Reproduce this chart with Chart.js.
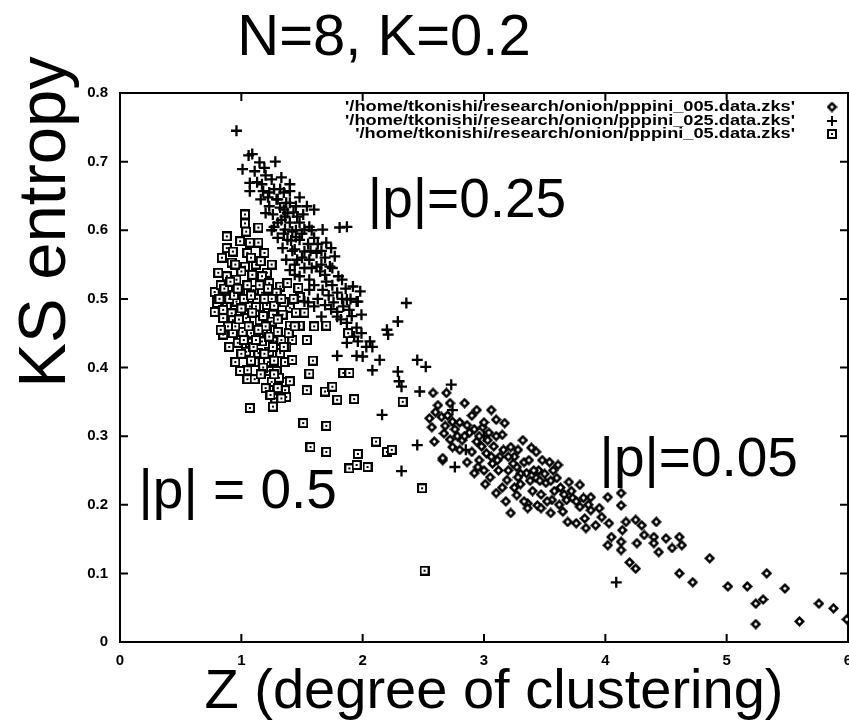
<!DOCTYPE html>
<html><head><meta charset="utf-8">
<script src="https://cdn.jsdelivr.net/npm/chart.js@4.4.1/dist/chart.umd.min.js"></script>
<style>html,body{margin:0;padding:0;background:#fff;overflow:hidden;width:849px;height:725px}canvas{display:block}</style>
</head><body><canvas id="c" width="849" height="725" style="width:849px;height:725px"></canvas>
<script>
const titleText = 'N=8, K=0.2';
const xTitle = 'Z (degree of clustering)';
const yTitle = 'KS entropy';
const seriesLabels = ["'/home/tkonishi/research/onion/pppini_005.data.zks'", "'/home/tkonishi/research/onion/pppini_025.data.zks'", "'/home/tkonishi/research/onion/pppini_05.data.zks'"];
const xTicks = [0,1,2,3,4,5,6];
const xTickLabels = ['0','1','2','3','4','5','6'];
const yTicks = [0,0.1,0.2,0.3,0.4,0.5,0.6,0.7,0.8];
const yTickLabels = ['0','0.1','0.2','0.3','0.4','0.5','0.6','0.7','0.8'];
const annotationTexts = ['|p|=0.25','|p| = 0.5','|p|=0.05'];
const annotationX = [2.86,0.97,4.77];
const annotationY = [0.619,0.195,0.242];

const pppini005 = [[2.58,0.363],[2.69,0.363],[2.72,0.348],[2.84,0.348],[2.55,0.326],[2.57,0.313],[2.65,0.328],[2.74,0.321],[2.59,0.292],[2.67,0.304],[2.66,0.265],[2.94,0.338],[3.06,0.338],[3.10,0.324],[3.17,0.319],[2.86,0.316],[2.99,0.313],[3.15,0.302],[2.82,0.294],[2.94,0.292],[3.03,0.294],[3.32,0.294],[3.39,0.283],[3.43,0.277],[3.22,0.284],[2.80,0.28],[2.90,0.277],[3.02,0.275],[3.13,0.27],[2.86,0.262],[2.96,0.265],[3.07,0.26],[2.92,0.246],[3.05,0.24],[3.19,0.236],[3.27,0.255],[3.35,0.246],[3.48,0.265],[3.54,0.262],[3.61,0.258],[3.43,0.239],[3.51,0.232],[3.60,0.239],[3.70,0.233],[3.79,0.229],[3.10,0.217],[3.27,0.214],[3.36,0.202],[3.36,0.195],[3.44,0.199],[3.22,0.188],[3.55,0.188],[3.56,0.207],[3.68,0.207],[3.79,0.197],[3.88,0.211],[3.88,0.192],[3.69,0.175],[3.76,0.173],[3.84,0.166],[3.97,0.182],[4.03,0.173],[4.02,0.211],[4.13,0.217],[4.13,0.199],[4.05,0.153],[4.14,0.163],[4.02,0.141],[4.13,0.146],[4.13,0.134],[4.17,0.175],[4.25,0.178],[4.30,0.170],[4.42,0.175],[4.26,0.144],[4.32,0.156],[4.40,0.153],[4.40,0.144],[4.50,0.151],[4.61,0.153],[4.63,0.141],[4.55,0.137],[4.44,0.131],[4.20,0.116],[4.25,0.107],[4.61,0.100],[4.72,0.087],[4.86,0.122],[5.01,0.081],[5.17,0.081],[5.33,0.100],[5.24,0.056],[5.30,0.062],[5.48,0.078],[5.24,0.026],[5.60,0.030],[5.76,0.056],[5.88,0.049],[5.99,0.033],[2.74,0.284],[2.66,0.268],[2.78,0.30],[2.88,0.305],[2.98,0.285],[3.08,0.285],[3.12,0.25],[3.25,0.27],[3.30,0.23],[3.40,0.22],[3.47,0.215],[3.58,0.22],[3.65,0.19],[3.73,0.21],[3.83,0.18],[3.92,0.17],[2.70,0.33],[2.62,0.345],[3.00,0.25],[3.20,0.25],[3.45,0.25],[3.15,0.225],[2.76,0.31],[3.33,0.262],[3.52,0.205],[3.95,0.195],[2.60,0.335],[2.68,0.315],[2.72,0.295],[2.80,0.32],[2.84,0.30],[2.90,0.33],[2.92,0.31],[2.96,0.30],[3.00,0.32],[3.04,0.305],[3.10,0.30],[3.06,0.27],[3.11,0.265],[3.16,0.28],[3.20,0.27],[3.24,0.26],[3.28,0.28],[3.30,0.245],[3.37,0.265],[3.38,0.235],[3.41,0.25],[3.46,0.235],[3.50,0.245],[3.55,0.235],[3.57,0.25],[3.63,0.225],[3.66,0.215],[3.72,0.22],[3.76,0.205],[3.82,0.21],[3.86,0.2],[3.47,0.195],[3.62,0.2],[3.25,0.225],[3.18,0.205],[2.95,0.255],[3.01,0.23],[3.28,0.24],[3.33,0.205]];

const pppini025 = [[0.96,0.745],[1.09,0.711],[1.06,0.709],[1.15,0.699],[1.28,0.70],[1.01,0.689],[1.11,0.686],[1.19,0.691],[1.07,0.669],[1.17,0.667],[1.25,0.674],[1.33,0.677],[1.40,0.667],[1.07,0.657],[1.18,0.657],[1.23,0.655],[1.32,0.66],[1.40,0.657],[1.22,0.648],[1.29,0.645],[1.48,0.648],[1.23,0.635],[1.32,0.633],[1.40,0.64],[1.54,0.635],[1.60,0.630],[1.26,0.623],[1.36,0.620],[1.43,0.626],[1.51,0.623],[1.30,0.611],[1.40,0.611],[1.48,0.611],[1.36,0.601],[1.42,0.598],[1.52,0.601],[1.81,0.604],[1.87,0.605],[1.67,0.601],[1.30,0.589],[1.38,0.586],[1.48,0.586],[1.60,0.589],[1.70,0.582],[1.34,0.574],[1.44,0.572],[1.52,0.569],[1.62,0.567],[1.74,0.574],[1.37,0.557],[1.46,0.557],[1.56,0.557],[1.69,0.560],[1.77,0.562],[1.40,0.542],[1.52,0.545],[1.62,0.547],[1.73,0.547],[1.80,0.533],[1.48,0.533],[1.56,0.528],[1.70,0.525],[1.83,0.528],[1.92,0.518],[1.98,0.511],[1.56,0.513],[1.67,0.513],[1.79,0.509],[1.87,0.499],[1.95,0.496],[2.36,0.494],[1.52,0.496],[1.60,0.489],[1.69,0.491],[1.79,0.481],[1.89,0.484],[1.99,0.477],[1.84,0.489],[1.96,0.496],[1.66,0.474],[1.79,0.474],[2.29,0.467],[1.87,0.465],[1.95,0.458],[2.20,0.455],[2.21,0.448],[1.99,0.450],[1.87,0.436],[1.96,0.438],[2.06,0.438],[2.08,0.430],[1.79,0.417],[1.95,0.417],[2.00,0.416],[2.14,0.411],[2.45,0.411],[2.52,0.401],[2.08,0.396],[2.29,0.394],[2.32,0.372],[2.30,0.380],[2.73,0.375],[2.16,0.331],[2.45,0.287],[2.32,0.249],[2.76,0.255],[2.47,0.365],[4.09,0.087],[2.74,0.338],[2.85,0.28],[3.0,0.30],[1.25,0.60],[1.35,0.63],[1.45,0.60],[1.55,0.58],[1.65,0.54],[1.75,0.52],[1.58,0.60],[1.44,0.55],[1.63,0.50],[1.13,0.67],[1.20,0.68],[1.27,0.66],[1.35,0.655],[1.30,0.645],[1.37,0.64],[1.45,0.635],[1.27,0.605],[1.33,0.615],[1.38,0.625],[1.46,0.62],[1.35,0.595],[1.41,0.585],[1.45,0.59],[1.50,0.595],[1.56,0.605],[1.57,0.57],[1.63,0.58],[1.66,0.57],[1.58,0.545],[1.66,0.55],[1.69,0.535],[1.75,0.545],[1.60,0.52],[1.72,0.505],[1.76,0.495],[1.83,0.50],[1.86,0.515],[1.90,0.50],[1.74,0.485],[1.82,0.47],[1.91,0.475],[1.93,0.445],[2.03,0.43],[1.16,0.645],[1.20,0.625],[1.42,0.57],[1.50,0.56],[1.44,0.535],[1.55,0.495]];

const pppini05 = [[1.03,0.623],[1.03,0.610],[1.04,0.598],[1.14,0.604],[0.88,0.591],[0.99,0.584],[1.07,0.582],[1.14,0.582],[0.88,0.574],[0.93,0.569],[1.05,0.567],[1.19,0.567],[0.92,0.553],[1.03,0.547],[1.21,0.538],[0.81,0.538],[0.88,0.533],[0.96,0.528],[1.09,0.535],[1.17,0.533],[1.23,0.523],[1.32,0.518],[1.38,0.523],[0.80,0.509],[0.89,0.513],[0.99,0.509],[1.10,0.513],[1.17,0.509],[1.29,0.509],[1.47,0.516],[1.48,0.503],[0.80,0.494],[0.88,0.491],[0.96,0.496],[1.07,0.489],[1.21,0.491],[1.40,0.487],[0.78,0.481],[0.92,0.479],[1.03,0.477],[1.15,0.477],[1.26,0.477],[0.85,0.484],[1.00,0.486],[1.12,0.489],[1.34,0.477],[1.48,0.461],[1.40,0.461],[1.70,0.461],[0.85,0.472],[0.93,0.469],[1.04,0.472],[1.15,0.469],[1.25,0.467],[0.85,0.448],[0.93,0.450],[1.01,0.452],[1.11,0.455],[1.21,0.452],[1.30,0.452],[1.88,0.450],[1.42,0.440],[1.54,0.440],[0.97,0.436],[1.07,0.436],[1.17,0.438],[1.28,0.438],[1.37,0.430],[1.04,0.423],[1.14,0.421],[1.23,0.423],[1.32,0.421],[0.95,0.408],[1.11,0.408],[1.22,0.408],[1.36,0.408],[1.42,0.411],[1.59,0.410],[1.05,0.396],[1.23,0.395],[1.29,0.395],[1.56,0.391],[1.84,0.392],[1.89,0.392],[1.05,0.383],[1.11,0.383],[1.25,0.379],[1.34,0.379],[1.29,0.365],[1.36,0.367],[1.37,0.357],[1.54,0.367],[1.69,0.365],[1.75,0.372],[1.79,0.353],[1.93,0.354],[1.07,0.341],[1.26,0.343],[1.51,0.319],[1.70,0.315],[1.57,0.284],[1.70,0.277],[1.96,0.274],[2.11,0.292],[2.20,0.277],[2.24,0.280],[1.89,0.253],[1.95,0.258],[2.04,0.255],[2.49,0.224],[2.51,0.104],[2.33,0.35],[0.78,0.51],[0.83,0.52],[0.90,0.50],[0.95,0.46],[1.00,0.42],[1.10,0.43],[1.18,0.40],[1.27,0.41],[1.33,0.44],[1.20,0.46],[1.08,0.45],[1.13,0.50],[1.25,0.50],[1.35,0.495],[1.45,0.48],[1.00,0.54],[1.12,0.55],[1.30,0.37],[1.28,0.355],[1.40,0.38],[0.82,0.50],[0.86,0.515],[0.91,0.525],[0.94,0.505],[0.97,0.515],[1.02,0.50],[1.05,0.52],[1.08,0.505],[1.15,0.52],[1.19,0.50],[1.22,0.515],[1.27,0.49],[1.30,0.47],[0.89,0.46],[0.98,0.47],[1.06,0.46],[1.09,0.48],[1.14,0.455],[1.18,0.475],[1.23,0.445],[1.26,0.43],[1.19,0.42],[1.12,0.44],[1.02,0.44],[0.99,0.395],[1.08,0.41],[1.16,0.39],[1.20,0.37],[1.24,0.36],[1.31,0.385],[1.33,0.355],[1.27,0.39],[1.35,0.43],[1.39,0.45],[1.44,0.46],[1.33,0.50],[1.43,0.50],[0.84,0.56],[0.95,0.55],[1.08,0.56],[1.16,0.555],[1.25,0.55],[0.83,0.455],[0.90,0.43],[1.52,0.48],[1.60,0.46]];

const FONT = '"Liberation Sans", Arial, Helvetica, sans-serif';

function squareMarker(){
  const c=document.createElement('canvas'); c.width=c.height=10;
  const g=c.getContext('2d');
  g.fillStyle='#000'; g.fillRect(0,0,10,10);
  g.fillStyle='#fff'; g.fillRect(2,2,6,6);
  g.fillStyle='#000'; g.fillRect(4,4,2,2);
  return c;
}
function diamondMarker(){
  const c=document.createElement('canvas'); c.width=c.height=11;
  const g=c.getContext('2d');
  g.fillStyle='#000'; g.beginPath(); g.moveTo(5.5,0); g.lineTo(11,5.5); g.lineTo(5.5,11); g.lineTo(0,5.5); g.closePath(); g.fill();
  g.fillStyle='#fff'; g.beginPath(); g.moveTo(5.5,3.6); g.lineTo(7.4,5.5); g.lineTo(5.5,7.4); g.lineTo(3.6,5.5); g.closePath(); g.fill();
  return c;
}
const sqImg = squareMarker();
const diaImg = diamondMarker();

const toPts = arr => arr.map(p=>({x:p[0],y:p[1]}));

const framePlugin = {
  id:'frame',
  beforeDatasetsDraw(chart){
    const {ctx, chartArea:a, scales:{x,y}} = chart;
    ctx.save();
    ctx.strokeStyle='#000'; ctx.lineWidth=2;
    ctx.strokeRect(a.left, a.top, a.right-a.left, a.bottom-a.top);
    ctx.beginPath();
    const L=8;
    xTicks.forEach(v=>{ const px=x.getPixelForValue(v);
      ctx.moveTo(px,a.bottom); ctx.lineTo(px,a.bottom-L);
      ctx.moveTo(px,a.top); ctx.lineTo(px,a.top+L); });
    yTicks.forEach(v=>{ const py=y.getPixelForValue(v);
      ctx.moveTo(a.left,py); ctx.lineTo(a.left+L,py);
      ctx.moveTo(a.right,py); ctx.lineTo(a.right-L,py); });
    ctx.stroke();
    ctx.restore();
  },
  afterDraw(chart){
    const {ctx, chartArea:a, scales:{x,y}} = chart;
    ctx.save();
    ctx.fillStyle='#000';
    ctx.font='58px '+FONT; ctx.textAlign='center'; ctx.textBaseline='alphabetic';
    ctx.fillText(titleText, 384, 55);
    ctx.font='56px '+FONT;
    ctx.fillText(xTitle, 494, 708);
    ctx.save(); ctx.translate(65, 222); ctx.rotate(-Math.PI/2);
    ctx.font='67px '+FONT; ctx.fillText(yTitle, 0, 0); ctx.restore();
    ctx.font='55px '+FONT;
    annotationTexts.forEach((t,i)=>{
      ctx.fillText(t, x.getPixelForValue(annotationX[i]), y.getPixelForValue(annotationY[i]));
    });
    ctx.font='bold 15px '+FONT; ctx.textBaseline='middle';
    const w0 = ctx.measureText(seriesLabels[0]).width;
    const sx = 450/w0;
    const ly=[107,121,134];
    chart.data.datasets.forEach((ds,i)=>{
      ctx.save(); ctx.translate(795, ly[i]); ctx.scale(sx,1);
      ctx.textAlign='right'; ctx.fillText(ds.label, 0, 0); ctx.restore();
      const mx=832, my=ly[i];
      if (ds.pointStyle==='cross'){
        ctx.save(); ctx.strokeStyle='#000'; ctx.lineWidth=2; ctx.beginPath();
        ctx.moveTo(mx-5,my); ctx.lineTo(mx+5,my); ctx.moveTo(mx,my-5); ctx.lineTo(mx,my+5); ctx.stroke(); ctx.restore();
      } else {
        const im=ds.pointStyle; ctx.drawImage(im, mx-im.width/2, my-im.height/2);
      }
    });
    ctx.restore();
  }
};

new Chart(document.getElementById('c'), {
  type:'scatter',
  data:{datasets:[
    {label:seriesLabels[0], data:toPts(pppini005), pointStyle:diaImg, pointRadius:5, borderColor:'#000', backgroundColor:'#000'},
    {label:seriesLabels[1], data:toPts(pppini025), pointStyle:'cross', pointRadius:5.5, borderWidth:2.3, borderColor:'#000', backgroundColor:'#000'},
    {label:seriesLabels[2], data:toPts(pppini05), pointStyle:sqImg, pointRadius:5, borderColor:'#000', backgroundColor:'#000'}
  ]},
  options:{
    responsive:false, maintainAspectRatio:false, animation:false, devicePixelRatio:1,
    layout:{autoPadding:false, padding:{top:93,right:1,left:0,bottom:0}},
    plugins:{legend:{display:false}, tooltip:{enabled:false}, title:{display:false}},
    scales:{
      x:{type:'linear', min:0, max:6,
        afterBuildTicks(s){ s.ticks = xTicks.map(v=>({value:v})); },
        afterFit(s){ s.height = 83; s.paddingLeft = 0; s.paddingRight = 0; },
        grid:{display:false, drawTicks:false}, border:{display:false},
        ticks:{padding:10, color:'#000', font:{family:FONT, size:15, weight:'bold'}, callback:(v,i)=>xTickLabels[i]}},
      y:{type:'linear', min:0, max:0.8,
        afterBuildTicks(s){ s.ticks = yTicks.map(v=>({value:v})); },
        afterFit(s){ s.width = 120; s.paddingTop = 0; s.paddingBottom = 0; },
        grid:{display:false, drawTicks:false}, border:{display:false},
        ticks:{padding:12, color:'#000', font:{family:FONT, size:15, weight:'bold'}, callback:(v,i)=>yTickLabels[i]}}
    }
  },
  plugins:[framePlugin]
});
</script></body></html>
